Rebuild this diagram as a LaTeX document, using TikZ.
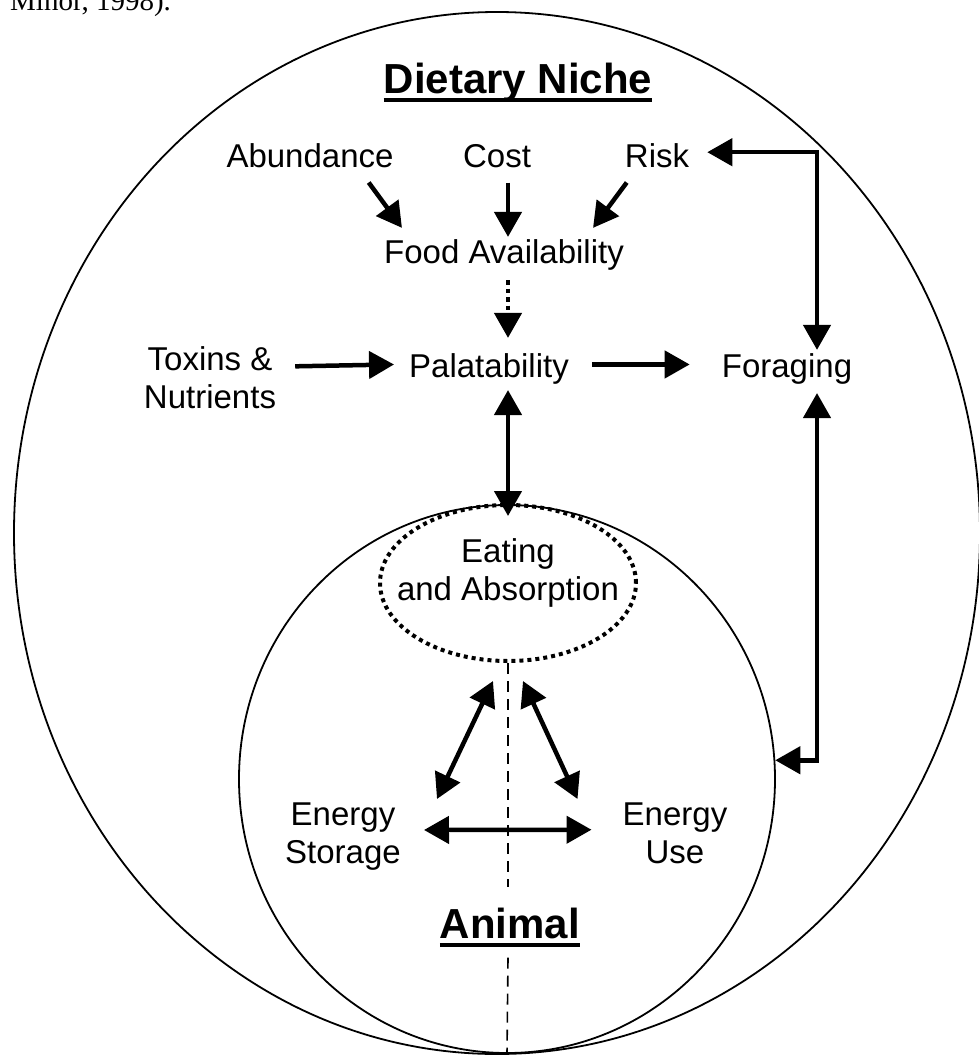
\documentclass[tikz,border=0pt]{standalone}
\usepackage{fontspec}
\setmainfont{Liberation Sans}
\newfontfamily\citefont{Liberation Serif}
\usetikzlibrary{positioning,arrows.meta,shapes.geometric}

\begin{document}
\begin{tikzpicture}[x=1pt, y=-1pt,
	>={Triangle[length=25pt,width=27pt]},
	txt/.style = { inner sep=0pt, font=\fontsize{33}{38}\selectfont, align=center },
	heading/.style = { inner sep=0pt, font=\fontsize{42}{46}\selectfont\bfseries },
	rim/.style = { draw, ellipse, line width=1.8pt, inner sep=0pt },
	arr/.style = { line width=4.5pt },
	dotline/.style = { line width=4.5pt, dash pattern=on 4.5pt off 4pt },
	midline/.style = { line width=1.6pt, dash pattern=on 11pt off 7pt },
	underbar/.style = { line width=4.5pt }]

  \useasboundingbox (0,0) rectangle (979,1055);

  \node[name=dietring, rim, minimum width=966pt, minimum height=1042pt] at (497,533) {};
  \node[name=animalring, rim, minimum width=536pt, minimum height=548pt] at (507,779) {};
  \node[name=eatingring, ellipse, draw, line width=4pt, dash pattern=on 4pt off 4pt,
	minimum width=256pt, minimum height=156pt] at (508,583) {};

  \node[name=cite, anchor=base west, inner sep=0pt,
	font=\citefont\fontsize{29}{32}\selectfont] at (10,10) {Minor, 1998).};

  \node[name=niche, heading, anchor=base] at (518,93) {Dietary Niche};
  \node[name=abund, txt, anchor=base] at (310,167) {Abundance};
  \node[name=cost, txt, anchor=base] at (497,167) {Cost};
  \node[name=risk, txt, anchor=base] at (657,167) {Risk};
  \node[name=food, txt, anchor=base] at (504,263) {Food Availability};
  \node[name=tox, txt, anchor=north] at (210,346) {Toxins \&\\Nutrients};
  \node[name=palat, txt, anchor=base] at (489,377) {Palatability};
  \node[name=forage, txt, anchor=base] at (787,377) {Foraging};
  \node[name=eating, txt, anchor=north] at (508,538) {Eating\\and Absorption};
  \node[name=storage, txt, anchor=north] at (343,803) {Energy\\Storage};
  \node[name=use, txt, anchor=north] at (675,803) {Energy\\Use};
  \node[name=animal, heading, anchor=base] at (510,938) {Animal};

  \draw [underbar] ([yshift=-7pt]niche.base west) -- ([yshift=-7pt]niche.base east);
  \draw [underbar] ([yshift=-7pt]animal.base west) -- ([yshift=-7pt]animal.base east);

  \draw [->, arr] ([xshift=-25pt,yshift=-15pt]abund.south east) -- ([xshift=18pt,yshift=11pt]food.north west);
  \draw [->, arr] ([xshift=11pt,yshift=-15pt]cost.south) -- ([xshift=4pt,yshift=2pt]food.north);
  \draw [->, arr] ([xshift=2pt,yshift=-15pt]risk.south west) -- ([xshift=-31pt,yshift=11pt]food.north east);
  \draw [->, dotline] ([xshift=4pt,yshift=-10pt]food.south) -- ([xshift=19pt,yshift=15pt]palat.north);
  \draw [->, arr] ([xshift=19pt,yshift=11pt]tox.east) -- ([xshift=-15pt,yshift=4pt]palat.west);
  \draw [->, arr] ([xshift=23pt,yshift=4pt]palat.east) -- ([xshift=-32pt,yshift=4pt]forage.west);
  \draw [<->, arr] ([xshift=18pt,yshift=3pt]risk.east) -| ([xshift=30pt,yshift=3pt]forage.north);
  \draw [<->, arr] ([xshift=30pt,yshift=-9pt]forage.south) |- (animalring.4);
  \draw [<->, arr] ([xshift=19pt,yshift=-6pt]palat.south) -- ([yshift=-13pt]eatingring.north);
  \draw [midline] (eatingring.south) -- ([yshift=20pt]eatingring.south |- animal.north);
  \draw [midline] ([yshift=-19pt]eatingring.south |- animal.south) -- (animalring.south);
  \draw [<->, arr] ([shift={(-15,18)}]eatingring.south) -- ([shift={(36,-4)}]storage.north east);
  \draw [<->, arr] ([shift={(15,18)}]eatingring.south) -- ([shift={(-45,-4)}]use.north west);
  \draw [<->, arr] ([xshift=23pt,yshift=7pt]storage.east) -- ([xshift=-31pt,yshift=4pt]use.west);
\end{tikzpicture}
\end{document}
